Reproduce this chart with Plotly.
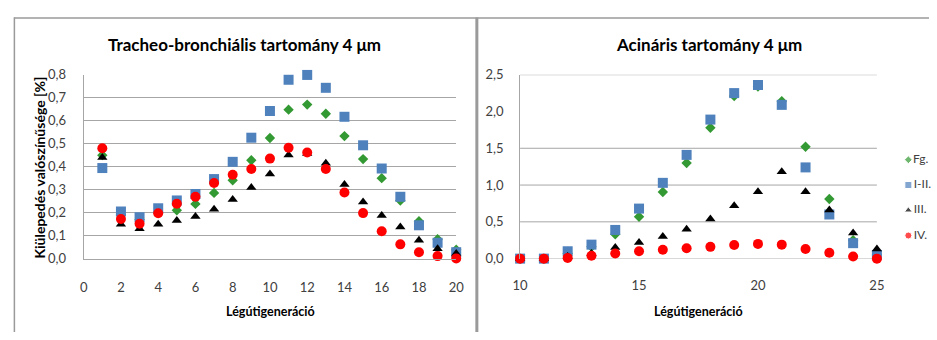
import plotly.graph_objects as go

# Tracheo-bronchial region: airway generations 1..20
gen_tb = list(range(1, 21))
fg_tb = [0.45, 0.19, 0.17, 0.20, 0.21, 0.238, 0.286, 0.341, 0.428, 0.525,
         0.648, 0.670, 0.630, 0.533, 0.433, 0.350, 0.253, 0.163, 0.084, 0.039]
i_ii_tb = [0.394, 0.205, 0.180, 0.219, 0.253, 0.281, 0.346, 0.421, 0.526, 0.642,
           0.778, 0.799, 0.743, 0.617, 0.493, 0.392, 0.269, 0.145, 0.069, 0.028]
iii_tb = [0.440, 0.150, 0.130, 0.150, 0.166, 0.183, 0.215, 0.257, 0.309, 0.368,
          0.451, 0.457, 0.415, 0.322, 0.246, 0.188, 0.138, 0.080, 0.043, 0.022]
iv_tb = [0.480, 0.172, 0.152, 0.197, 0.239, 0.269, 0.329, 0.365, 0.390, 0.435,
         0.482, 0.462, 0.390, 0.288, 0.198, 0.119, 0.062, 0.028, 0.011, 0.001]

# Acinar region: airway generations 10..25
gen_ac = list(range(10, 26))
fg_ac = [0.0, 0.0, 0.07, 0.16, 0.33, 0.57, 0.905, 1.30, 1.78, 2.21,
         2.34, 2.14, 1.52, 0.81, 0.25, 0.05]
i_ii_ac = [0.0, 0.0, 0.10, 0.19, 0.39, 0.68, 1.03, 1.41, 1.89, 2.25,
           2.36, 2.09, 1.24, 0.60, 0.21, 0.05]
iii_ac = [0.0, 0.0, 0.03, 0.07, 0.15, 0.22, 0.30, 0.40, 0.54, 0.72,
          0.91, 1.18, 0.91, 0.66, 0.35, 0.13]
iv_ac = [0.0, 0.0, 0.01, 0.04, 0.07, 0.10, 0.12, 0.14, 0.16, 0.185,
         0.20, 0.19, 0.13, 0.08, 0.03, 0.0]

series_names = ["Fg.", "I-II.", "III.", "IV."]
tb_values = [fg_tb, i_ii_tb, iii_tb, iv_tb]
ac_values = [fg_ac, i_ii_ac, iii_ac, iv_ac]

tb_ticks = list(range(0, 21, 2))
ac_ticks = [10, 15, 20, 25]
ac_grid = [0.0, 0.5, 1.0, 1.5, 2.5]

colors = ["#339933", "#4F81BD", "#000000", "#FF0000"]
symbols = ["diamond", "square", "triangle-up", "circle"]
sizes = [8, 10, 9, 10]

FONT = "Lato"
GRID = "#A6A6A6"
TICKCOL = "#404040"
W, H = 937, 340

fig = go.Figure()

for name, vals, col, sym, sz in zip(series_names, tb_values, colors, symbols, sizes):
    fig.add_trace(go.Scatter(x=gen_tb, y=vals, mode="markers", name=name,
                             marker=dict(symbol=sym, color=col, size=sz, line=dict(width=0)),
                             xaxis="x", yaxis="y", showlegend=False, cliponaxis=False))

for name, vals, col, sym, sz in zip(series_names, ac_values, colors, symbols, sizes):
    fig.add_trace(go.Scatter(x=gen_ac, y=vals, mode="markers", name=name,
                             marker=dict(symbol=sym, color=col, size=sz, line=dict(width=0)),
                             xaxis="x2", yaxis="y2", showlegend=False, cliponaxis=False))

# Legend for the acinar panel, drawn as a small marker column
fig.add_trace(go.Scatter(x=[0] * len(series_names), y=list(range(len(series_names))),
                         mode="markers+text", text=series_names, textposition="middle right",
                         textfont=dict(family=FONT, size=12, color=TICKCOL),
                         marker=dict(symbol=symbols, color=colors, size=[6, 7, 7, 7]),
                         xaxis="x3", yaxis="y3", showlegend=False, cliponaxis=False,
                         hoverinfo="skip"))


def px_x(p):
    return p / W


def px_y(p):
    return (H - p) / H


axis_common = dict(showgrid=False, zeroline=False, ticks="",
                   tickfont=dict(family=FONT, size=13, color=TICKCOL))

fig.update_layout(
    width=W, height=H,
    margin=dict(l=0, r=0, t=0, b=0),
    paper_bgcolor="white", plot_bgcolor="white",
    separators=", ",
    showlegend=False,
    xaxis=dict(domain=[px_x(77), px_x(456)], range=[0, 20], tickvals=tb_ticks,
               showline=True, linecolor=GRID, linewidth=1, ticklabelstandoff=17,
               anchor="y", **axis_common),
    yaxis=dict(domain=[px_y(263), px_y(70)], range=[0, 0.8], dtick=0.1, tickformat=".1f",
               showline=True, linecolor=GRID, linewidth=1, ticklabelstandoff=14,
               anchor="x", **{**axis_common, "showgrid": True}, gridcolor=GRID, gridwidth=1),
    xaxis2=dict(domain=[px_x(521), px_x(884)], range=[10, 25], tickvals=ac_ticks,
                showline=False, ticklabelstandoff=17, anchor="y2", **axis_common),
    yaxis2=dict(domain=[px_y(263), px_y(70)], range=[0, 2.5], tickvals=[0, 0.5, 1.0, 1.5, 2.0, 2.5],
                tickformat=".1f", showline=True, linecolor=GRID, linewidth=1,
                ticklabelstandoff=13, anchor="x2", **axis_common),
    xaxis3=dict(domain=[px_x(916), 1.0], range=[0, 1], visible=False, anchor="y3"),
    yaxis3=dict(domain=[px_y(252), px_y(146)], range=[3.5, -0.5], visible=False, anchor="x3"),
)

shapes = []
for v in ac_grid:
    shapes.append(dict(type="line", xref="x2 domain", yref="y2", x0=0, x1=1, y0=v, y1=v,
                       line=dict(color=GRID, width=1), layer="below"))
# panel frames
shapes.append(dict(type="line", xref="paper", yref="paper", x0=px_x(6), x1=1, y0=px_y(10.5), y1=px_y(10.5),
                   line=dict(color="#9A9A9A", width=1.5)))
shapes.append(dict(type="line", xref="paper", yref="paper", x0=px_x(6.5), x1=px_x(6.5), y0=0, y1=px_y(10),
                   line=dict(color="#9A9A9A", width=1.5)))
shapes.append(dict(type="line", xref="paper", yref="paper", x0=px_x(477), x1=px_x(477), y0=0, y1=px_y(10),
                   line=dict(color="#9A9A9A", width=3)))
fig.update_layout(shapes=shapes)

title_font = dict(family=FONT, size=17, color="#000000")
label_font = dict(family=FONT, size=12.5, color="#000000")
ylabel_font = dict(family=FONT, size=14, color="#000000")
annotations = [
    dict(text="<b>Tracheo-bronchiális tartomány 4 μm</b>", x=px_x(241), y=px_y(38),
         xref="paper", yref="paper", showarrow=False, font=title_font, xanchor="center", yanchor="middle"),
    dict(text="<b>Acináris tartomány 4 μm</b>", x=px_x(713), y=px_y(38),
         xref="paper", yref="paper", showarrow=False, font=title_font, xanchor="center", yanchor="middle"),
    dict(text="<b>Légútigeneráció</b>", x=px_x(267), y=px_y(319),
         xref="paper", yref="paper", showarrow=False, font=label_font, xanchor="center", yanchor="middle"),
    dict(text="<b>Légútigeneráció</b>", x=px_x(703), y=px_y(319),
         xref="paper", yref="paper", showarrow=False, font=label_font, xanchor="center", yanchor="middle"),
    dict(text="<b>Kiülepedés valószínűsége [%]</b>", x=px_x(32), y=px_y(167), textangle=-90,
         xref="paper", yref="paper", showarrow=False, font=ylabel_font, xanchor="center", yanchor="middle"),
]
fig.update_layout(annotations=annotations)

fig.write_html("out.html")
